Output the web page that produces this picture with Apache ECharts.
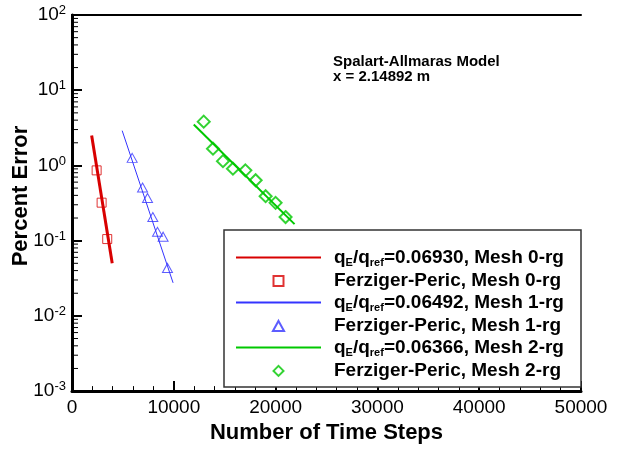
<!DOCTYPE html>
<html><head><meta charset="utf-8">
<script src="https://cdn.jsdelivr.net/npm/echarts@6/dist/echarts.min.js"></script>
<style>html,body{margin:0;padding:0;background:#fff}#c{width:621px;height:449px}</style>
</head><body><div id="c"></div>
<script>
// ---- data ----
const xTickValues = [0, 10000, 20000, 30000, 40000, 50000];
const yDecadeValues = [0.001, 0.01, 0.1, 1, 10, 100];

const mesh0LineX = [1930, 3950];
const mesh0LineY = [2.5, 0.050];
const mesh0PtsX = [2420, 2910, 3460];
const mesh0PtsY = [0.86, 0.32, 0.105];

const mesh1LineX = [4930, 9930];
const mesh1LineY = [2.9, 0.0275];
const mesh1PtsX = [5910, 6930, 7420, 7940, 8400, 8950, 9380];
const mesh1PtsY = [1.26, 0.51, 0.37, 0.206, 0.131, 0.113, 0.0434];

const mesh2LineX = [11960, 21860];
const mesh2LineY = [3.5, 0.166];
const mesh2PtsX = [12940, 13850, 14830, 15810, 17030, 18040, 19020, 20000, 20980];
const mesh2PtsY = [3.82, 1.67, 1.14, 0.905, 0.86, 0.636, 0.39, 0.318, 0.206];

const seriesNames = [
  'qE/qref=0.06930, Mesh 0-rg', 'Ferziger-Peric, Mesh 0-rg',
  'qE/qref=0.06492, Mesh 1-rg', 'Ferziger-Peric, Mesh 1-rg',
  'qE/qref=0.06366, Mesh 2-rg', 'Ferziger-Peric, Mesh 2-rg'
];
const annotationLines = ['Spalart-Allmaras Model', 'x = 2.14892 m'];
const xTitle = 'Number of Time Steps';
const yTitle = 'Percent Error';

// ---- helpers ----
function zip(xs, ys) { return xs.map((x, i) => [x, ys[i]]); }
const minorY = [];
yDecadeValues.slice(0, -1).forEach(d => { for (let k = 2; k <= 9; k++) minorY.push(+(d * k).toPrecision(3)); });

const FONT = '"Liberation Sans", Arial, sans-serif';
const RED = '#d80000', BLUE = '#3434ff', GREEN = '#00c800';

const chart = echarts.init(document.getElementById('c'), null, { renderer: 'canvas' });

const hideDot = { color: 'rgba(0,0,0,0)', borderColor: 'rgba(0,0,0,0)', borderWidth: 0 };
const legendIcons = {
  1: 'path://M0,0L10,0L10,10L0,10Z',
  3: 'path://M5,0L10,9L0,9Z',
  5: 'path://M6,0L12,6L6,12L0,6Z'
};

const option = {
  animation: false,
  backgroundColor: '#fff',
  grid: { left: 72, right: 40, top: 15, bottom: 53 },
  xAxis: [{
    type: 'value', min: 0, max: 50000, interval: 10000, position: 'bottom',
    axisLine: { show: true, lineStyle: { color: '#000', width: 3 } },
    axisTick: { show: true, inside: true, length: 10, lineStyle: { color: '#000', width: 2 } },
    minorTick: { show: true, splitNumber: 5, length: 5, lineStyle: { color: '#000', width: 1 } },
    axisLabel: { fontSize: 19, color: '#000', margin: 7, fontFamily: FONT, formatter: v => String(v) },
    splitLine: { show: false }, minorSplitLine: { show: false },
    name: xTitle, nameLocation: 'middle', nameGap: 26,
    nameTextStyle: { fontSize: 22, fontWeight: 'bold', color: '#000', fontFamily: FONT }
  }, {
    type: 'value', min: 0, max: 50000, position: 'top',
    axisLine: { show: true, lineStyle: { color: '#000', width: 2 } },
    axisTick: { show: false }, axisLabel: { show: false }, splitLine: { show: false }
  }],
  yAxis: [{
    type: 'log', logBase: 10, min: 0.001, max: 100, position: 'left',
    axisLine: { show: true, lineStyle: { color: '#000', width: 3 } },
    axisTick: { show: true, inside: true, length: 10, lineStyle: { color: '#000', width: 2 } },
    axisLabel: {
      margin: 6,
      formatter: v => '{b|10}{s|' + Math.round(Math.log10(v)) + '}',
      rich: {
        b: { fontSize: 19, color: '#000', fontFamily: FONT, lineHeight: 22 },
        s: { fontSize: 13, color: '#000', fontFamily: FONT, lineHeight: 13, verticalAlign: 'top' }
      }
    },
    splitLine: { show: false }
  }, {
    type: 'log', logBase: 10, min: 0.001, max: 100, position: 'right',
    axisLine: { show: true, lineStyle: { color: '#000', width: 2 } },
    axisTick: { show: false }, axisLabel: { show: false }, splitLine: { show: false }
  }],
  legend: {
    orient: 'vertical', left: 235, top: 248, padding: 0, itemGap: 2.6,
    itemWidth: 85, itemHeight: 10, selectedMode: false, z: 5,
    data: seriesNames.map((n, i) => i % 2 === 0 ? { name: n, itemStyle: hideDot } : { name: n, icon: legendIcons[i] }),
    formatter: function (name) {
      if (name.indexOf('qE/qref') === 0) {
        return '{p| }{n|q}{s|E}{n|/q}{s|ref}{n|' + name.slice(7) + '}';
      }
      return '{p| }{n|' + name + '}';
    },
    textStyle: {
      fontSize: 19, fontWeight: 'bold', color: '#000', fontFamily: FONT,
      rich: {
        p: { width: 8, fontSize: 19, lineHeight: 22.6 },
        n: { fontSize: 19, fontWeight: 'bold', color: '#000', fontFamily: FONT, lineHeight: 22.6 },
        s: { fontSize: 11, fontWeight: 'bold', color: '#000', fontFamily: FONT, lineHeight: 10, verticalAlign: 'bottom' }
      }
    }
  },
  graphic: [
    { type: 'rect', z: 3, shape: { x: 224, y: 230, width: 357, height: 157 },
      style: { fill: '#fff', stroke: '#333', lineWidth: 1.5 } },
    { type: 'text', z: 6, x: 333, y: 62,
      style: { text: annotationLines[0], font: 'bold 15px ' + FONT, fill: '#000', textVerticalAlign: 'middle', verticalAlign: 'middle' } },
    { type: 'text', z: 6, x: 333, y: 77,
      style: { text: annotationLines[1], font: 'bold 15px ' + FONT, fill: '#000', textVerticalAlign: 'middle', verticalAlign: 'middle' } },
    { type: 'text', z: 6, x: 21, y: 196, rotation: Math.PI / 2,
      style: { text: yTitle, font: 'bold 22px ' + FONT, fill: '#000', textAlign: 'center', align: 'center', textVerticalAlign: 'middle', verticalAlign: 'middle' } }
  ],
  series: [
    { name: seriesNames[0], type: 'line', data: zip(mesh0LineX, mesh0LineY), symbol: 'none', z: 2,
      lineStyle: { color: RED, width: 3 }, itemStyle: { color: RED } },
    { name: seriesNames[1], type: 'scatter', data: zip(mesh0PtsX, mesh0PtsY), symbol: 'rect', symbolSize: 9, z: 3,
      itemStyle: { color: 'rgba(0,0,0,0)', borderColor: RED, borderWidth: 1 } },
    { name: seriesNames[2], type: 'line', data: zip(mesh1LineX, mesh1LineY), symbol: 'none', z: 2,
      lineStyle: { color: BLUE, width: 1 }, itemStyle: { color: BLUE } },
    { name: seriesNames[3], type: 'scatter', data: zip(mesh1PtsX, mesh1PtsY), symbol: 'triangle', symbolSize: [10, 9], z: 3,
      itemStyle: { color: 'rgba(0,0,0,0)', borderColor: BLUE, borderWidth: 1 } },
    { name: seriesNames[4], type: 'line', data: zip(mesh2LineX, mesh2LineY), symbol: 'none', z: 2,
      lineStyle: { color: GREEN, width: 2 }, itemStyle: { color: GREEN } },
    { name: seriesNames[5], type: 'scatter', data: zip(mesh2PtsX, mesh2PtsY), symbol: 'diamond', symbolSize: 12, z: 3,
      itemStyle: { color: 'rgba(0,0,0,0)', borderColor: GREEN, borderWidth: 2 } },
    // minor log ticks on the left axis, positioned through the axis scale
    { name: 'minorTicks', type: 'custom', silent: true, z: 4, clip: false,
      data: minorY.map(v => [0, v]),
      renderItem: function (params, api) {
        const p = api.coord([api.value(0), api.value(1)]);
        return { type: 'line', shape: { x1: p[0], y1: p[1], x2: p[0] + 6, y2: p[1] },
          style: { stroke: '#000', lineWidth: 1 } };
      } }
  ]
};
chart.setOption(option);
</script>
</body></html>
